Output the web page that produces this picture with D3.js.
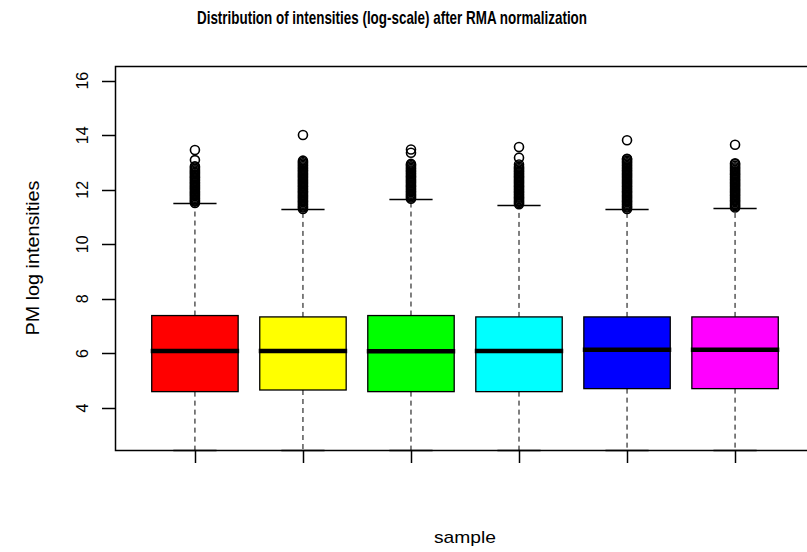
<!DOCTYPE html>
<html>
<head>
<meta charset="utf-8">
<script src="https://cdn.jsdelivr.net/npm/d3@7"></script>
<style>
  body { margin: 0; background: #fff; }
  text { font-family: "Liberation Sans", Arial, sans-serif; fill: #000; }
</style>
</head>
<body>
<script>
// ----------------------------------- DATA --------------------------------------------
var samples = [1, 2, 3, 4, 5, 6]
var boxColors = ['#ff0000', '#ffff00', '#00ff00', '#00ffff', '#0000ff', '#ff00ff']

var lowerWhisker = [2.46, 2.46, 2.46, 2.46, 2.46, 2.46]
var q1 = [4.60, 4.66, 4.60, 4.60, 4.71, 4.71]
var median = [6.09, 6.09, 6.08, 6.09, 6.14, 6.14]
var q3 = [7.39, 7.34, 7.39, 7.34, 7.34, 7.34]
var upperWhisker = [11.50, 11.28, 11.65, 11.45, 11.28, 11.33]

var outliers = [
	[11.52, 11.57, 11.61, 11.66, 11.71, 11.76, 11.81, 11.86, 11.90, 11.95, 12.00, 12.05, 12.09, 12.14,
	 12.19, 12.24, 12.28, 12.33, 12.38, 12.43, 12.47, 12.52, 12.57, 12.62, 12.66, 12.71, 12.76, 12.82, 12.86,
	 13.09, 13.46],
	[11.30, 11.35, 11.39, 11.44, 11.49, 11.54, 11.58, 11.63, 11.68, 11.73, 11.77, 11.82, 11.87, 11.92,
	 11.96, 12.01, 12.06, 12.11, 12.15, 12.20, 12.25, 12.30, 12.34, 12.39, 12.44, 12.49, 12.53, 12.58,
	 12.63, 12.68, 12.72, 12.77, 12.82, 12.87, 12.92, 12.97, 13.02, 13.07, 14.01],
	[11.67, 11.72, 11.76, 11.81, 11.86, 11.91, 11.95, 12.00, 12.05, 12.10, 12.14, 12.19, 12.24, 12.29,
	 12.33, 12.38, 12.43, 12.48, 12.52, 12.57, 12.62, 12.67, 12.71, 12.76, 12.81, 12.86, 12.91, 12.95,
	 13.36, 13.48],
	[11.47, 11.52, 11.56, 11.61, 11.66, 11.71, 11.75, 11.80, 11.85, 11.90, 11.94, 11.99, 12.04, 12.09,
	 12.13, 12.18, 12.23, 12.28, 12.32, 12.37, 12.42, 12.47, 12.51, 12.56, 12.61, 12.66, 12.70, 12.75,
	 12.80, 12.85, 12.93, 13.18, 13.57],
	[11.30, 11.35, 11.39, 11.44, 11.49, 11.54, 11.58, 11.63, 11.68, 11.73, 11.77, 11.82, 11.87, 11.92,
	 11.96, 12.01, 12.06, 12.11, 12.15, 12.20, 12.25, 12.30, 12.34, 12.39, 12.44, 12.49, 12.53, 12.58,
	 12.63, 12.68, 12.72, 12.77, 12.82, 12.87, 12.92, 12.97, 13.02, 13.07, 13.12, 13.14, 13.82],
	[11.35, 11.40, 11.44, 11.49, 11.54, 11.59, 11.63, 11.68, 11.73, 11.78, 11.82, 11.87, 11.92, 11.97,
	 12.01, 12.06, 12.11, 12.16, 12.20, 12.25, 12.30, 12.35, 12.39, 12.44, 12.49, 12.54, 12.58, 12.63,
	 12.68, 12.73, 12.78, 12.83, 12.88, 12.94, 12.97, 13.65]
]

var yTicks = [4, 6, 8, 10, 12, 14, 16]
var yDomain = [2.46, 16.54]
var xDomain = [0.26, 6.74]

// ----------------------------------- SVG --------------------------------------------
var width = 807
var height = 552

var svg = d3.select('body')
			.append('svg')
			.attr('width', width)
			.attr('height', height)

svg.append('rect')
	.attr('width', '100%')
	.attr('height', '100%')
	.attr('fill', '#fff')

var plotLeft = 115, plotRight = 815, plotTop = 66, plotBottom = 450

var x = d3.scaleLinear().domain(xDomain).range([plotLeft, plotRight])
var y = d3.scaleLinear().domain(yDomain).range([plotBottom, plotTop])

var boxHalf = (x(1.4) - x(1)) // box width 0.8
var capHalf = boxHalf / 2

// ----------------------------------- BOXES --------------------------------------------
var boxes = samples.map(function(s, i){
	return {s: s, color: boxColors[i], lo: lowerWhisker[i], q1: q1[i], med: median[i],
			q3: q3[i], hi: upperWhisker[i], out: outliers[i]}
})

var g = svg.append('g')
	.selectAll('g')
	.data(boxes)
	.enter()
	.append('g')

// whiskers (dashed)
g.append('line')
	.attr('x1', function(d){ return x(d.s) })
	.attr('x2', function(d){ return x(d.s) })
	.attr('y1', function(d){ return y(d.q3) })
	.attr('y2', function(d){ return y(d.hi) })
	.attr('stroke', '#000')
	.attr('stroke-dasharray', '5,4')

g.append('line')
	.attr('x1', function(d){ return x(d.s) })
	.attr('x2', function(d){ return x(d.s) })
	.attr('y1', function(d){ return y(d.q1) })
	.attr('y2', function(d){ return y(d.lo) })
	.attr('stroke', '#000')
	.attr('stroke-dasharray', '5,4')

// staples
g.selectAll('.cap')
	.data(function(d){ return [{s: d.s, v: d.hi}, {s: d.s, v: d.lo}] })
	.enter()
	.append('line')
	.attr('x1', function(d){ return x(d.s) - capHalf })
	.attr('x2', function(d){ return x(d.s) + capHalf })
	.attr('y1', function(d){ return Math.round(y(d.v)) + 0.5 })
	.attr('y2', function(d){ return Math.round(y(d.v)) + 0.5 })
	.attr('stroke', '#000')
	.attr('stroke-width', 1.5)

// box
g.append('rect')
	.attr('x', function(d){ return x(d.s) - boxHalf })
	.attr('width', boxHalf * 2)
	.attr('y', function(d){ return y(d.q3) })
	.attr('height', function(d){ return y(d.q1) - y(d.q3) })
	.attr('fill', function(d){ return d.color })
	.attr('stroke', '#000')
	.attr('stroke-width', 1.3)

// median
g.append('line')
	.attr('x1', function(d){ return x(d.s) - boxHalf - 1 })
	.attr('x2', function(d){ return x(d.s) + boxHalf + 1 })
	.attr('y1', function(d){ return y(d.med) })
	.attr('y2', function(d){ return y(d.med) })
	.attr('stroke', '#000')
	.attr('stroke-width', 4.5)

// outliers
g.selectAll('circle')
	.data(function(d){ return d.out.map(function(v){ return {s: d.s, v: v} }) })
	.enter()
	.append('circle')
	.attr('cx', function(d){ return x(d.s) })
	.attr('cy', function(d){ return y(d.v) })
	.attr('r', 4.5)
	.attr('fill', 'none')
	.attr('stroke', '#000')
	.attr('stroke-width', 1.6)

// ----------------------------------- AXES --------------------------------------------
var axisG = svg.append('g')

axisG.append('rect')
	.attr('x', plotLeft + 0.5)
	.attr('y', plotTop + 0.5)
	.attr('width', plotRight - plotLeft)
	.attr('height', plotBottom - plotTop)
	.attr('fill', 'none')
	.attr('stroke', '#000')
	.attr('stroke-width', 1.5)

axisG.selectAll('.yt')
	.data(yTicks)
	.enter()
	.append('line')
	.attr('x1', plotLeft - 13)
	.attr('x2', plotLeft)
	.attr('y1', function(d){ return Math.round(y(d)) + 0.5 })
	.attr('y2', function(d){ return Math.round(y(d)) + 0.5 })
	.attr('stroke', '#000')
	.attr('stroke-width', 1.5)

axisG.selectAll('.yl')
	.data(yTicks)
	.enter()
	.append('text')
	.attr('transform', function(d){ return 'translate(88,' + y(d) + ') rotate(-90)' })
	.attr('text-anchor', 'middle')
	.style('font-size', '16px')
	.text(function(d){ return d })

axisG.selectAll('.xt')
	.data(samples)
	.enter()
	.append('line')
	.attr('x1', function(d){ return Math.round(x(d)) + 0.5 })
	.attr('x2', function(d){ return Math.round(x(d)) + 0.5 })
	.attr('y1', plotBottom)
	.attr('y2', plotBottom + 13)
	.attr('stroke', '#000')
	.attr('stroke-width', 1.5)

// ----------------------------------- LABELS --------------------------------------------
svg.append('text')
	.attr('x', 197)
	.attr('y', 24)
	.attr('textLength', 390)
	.attr('lengthAdjust', 'spacingAndGlyphs')
	.style('font-size', '19px')
	.style('font-weight', 'bold')
	.text('Distribution of intensities (log-scale) after RMA normalization')

svg.append('text')
	.attr('transform', 'translate(39,' + ((plotTop + plotBottom) / 2) + ') rotate(-90)')
	.attr('text-anchor', 'middle')
	.attr('textLength', 155)
	.attr('lengthAdjust', 'spacingAndGlyphs')
	.style('font-size', '18px')
	.text('PM log intensities')

svg.append('text')
	.attr('x', (plotLeft + plotRight) / 2)
	.attr('y', 543)
	.attr('text-anchor', 'middle')
	.attr('textLength', 62)
	.attr('lengthAdjust', 'spacingAndGlyphs')
	.style('font-size', '17px')
	.text('sample')
</script>
</body>
</html>
